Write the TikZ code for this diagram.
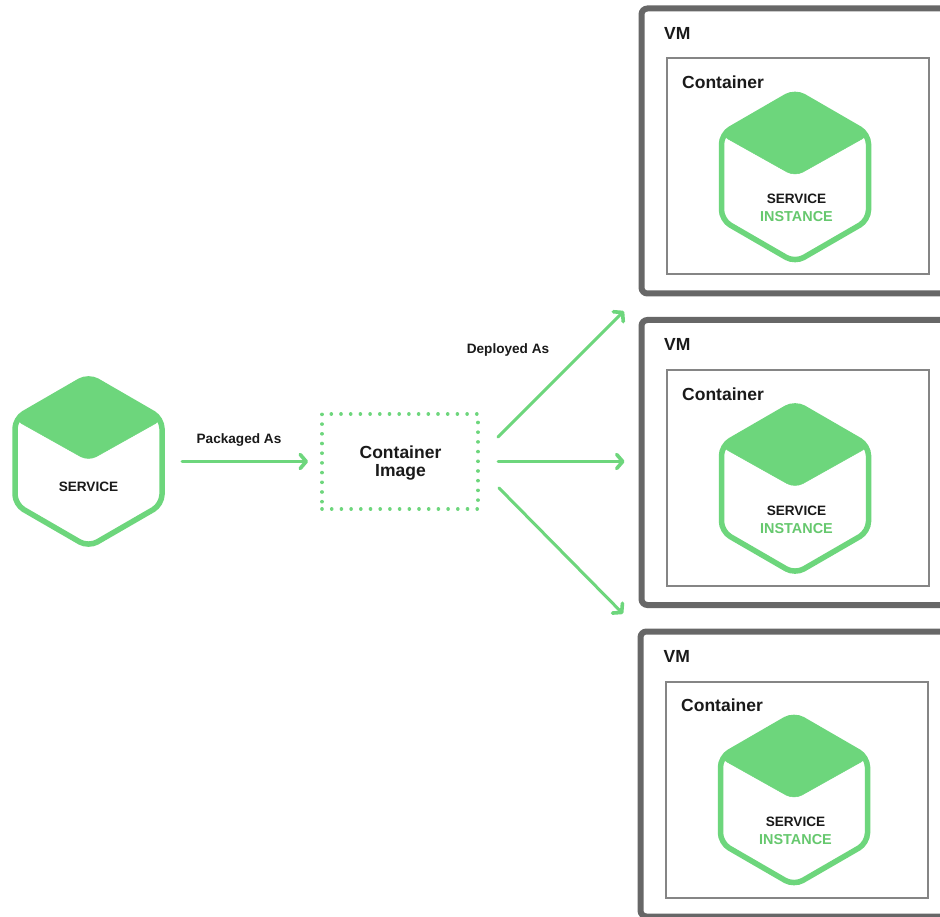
\documentclass[tikz,border=0pt]{standalone}
\usepackage{fontspec}
\setmainfont{Liberation Sans}[BoldFont={Liberation Sans Bold}]
\usetikzlibrary{arrows.meta}
\definecolor{hexgreen}{HTML}{6DD67C}
\definecolor{instgreen}{HTML}{66C86E}
\definecolor{vmgray}{HTML}{676767}
\definecolor{boxgray}{HTML}{858585}
\definecolor{inkblack}{HTML}{1A1A1A}
\tikzset{
  x=1pt,y=-1pt,
  flow/.style={draw=hexgreen,line width=3pt,line cap=round,
    -{Straight Barb[length=6pt,width=14pt,line width=3.6pt,round]}},
  vmbox/.style={draw=vmgray,line width=6pt,rounded corners=6pt,fill=white,outer sep=0pt,
    minimum width=330pt,minimum height=285pt,inner sep=0pt,anchor=north west},
  ctrbox/.style={draw=boxgray,line width=2pt,fill=white,outer sep=0pt,minimum width=262pt,
    minimum height=216pt,inner sep=0pt,anchor=north west},
  imgbox/.style={draw=hexgreen,line width=3.6pt,line cap=round,outer sep=0pt,
    dash pattern=on 0.01pt off 9.69pt,minimum width=156pt,minimum height=95pt,
    inner sep=0pt,anchor=north west},
  lbl/.style={anchor=base,inner sep=0pt,text=inkblack,font=\bfseries\fontsize{17.5}{20}\selectfont},
  lblw/.style={anchor=base west,inner sep=0pt,text=inkblack,font=\bfseries\fontsize{17.5}{20}\selectfont},
  small/.style={anchor=base,inner sep=0pt,text=inkblack,font=\bfseries\fontsize{13.6}{16}\selectfont},
  inst/.style={anchor=base,inner sep=0pt,text=instgreen,font=\bfseries\fontsize{14.4}{16}\selectfont},
  hexline/.style={draw=hexgreen,line width=5.5pt,rounded corners=10pt,fill=white},
  hextop/.style={fill=hexgreen,draw=hexgreen,line width=0.5pt,rounded corners=9pt},
  pics/hexa/.style={code={
    \path[hexline] (0,-85.5) -- (73.5,-43) -- (73.5,43) -- (0,85.5) -- (-73.5,43) -- (-73.5,-43) -- cycle;
    \path[hextop] (0,-86) -- (75,-42.5) -- (0,-0.5) -- (-75,-42.5) -- cycle;
  }}
}
\begin{document}
\begin{tikzpicture}
\clip (0,0) rectangle (940,917);
\fill[white] (0,0) rectangle (940,917);
% left hexagon
\pic at (88.5,461.5) {hexa};
\node[small] (svc) at (88.5,491) {SERVICE};
\coordinate (svcR) at (182,461.5);
% image
\node[imgbox] (image) at (322,414) {};
\node[lbl] (imgA) at (400.5,458) {Container};
\node[lbl] (imgB) at (400.5,476) {Image};
\node[small] (pk) at (239,443) {Packaged As};
\node[small] (dp) at (508,353) {Deployed As};
% VM 1
\node[vmbox] (vm1) at (641.5,8.5) {};
\node[lblw] (vm1t) at (664,39.5) {VM};
\node[ctrbox] (c1) at (666.5,58.5) {};
\node[lblw] (c1t) at (682,88.5) {Container};
\pic at (795,177) {hexa};
\node[small] (s1) at (796.5,203.5) {SERVICE};
\node[inst] (i1) at (796.5,221.5) {INSTANCE};
% VM 2
\node[vmbox] (vm2) at (641.5,320) {};
\node[lblw] (vm2t) at (664,351) {VM};
\node[ctrbox] (c2) at (666.5,370) {};
\node[lblw] (c2t) at (682,400) {Container};
\pic at (795,488.5) {hexa};
\node[small] (s2) at (796.5,515) {SERVICE};
\node[inst] (i2) at (796.5,533) {INSTANCE};
% VM 3
\node[vmbox] (vm3) at (640.5,631.5) {};
\node[lblw] (vm3t) at (663.5,662) {VM};
\node[ctrbox] (c3) at (665.5,681.5) {};
\node[lblw] (c3t) at (681,711.5) {Container};
\pic at (794,800) {hexa};
\node[small] (s3) at (795.5,826.5) {SERVICE};
\node[inst] (i3) at (795.5,844.5) {INSTANCE};
% connectors
\coordinate (fan1) at (498,437);
\coordinate (fan2) at (498,461.5);
\coordinate (fan3) at (499,488);
\draw[flow,shorten >=14pt] (svcR) -- (image.west |- svcR);
\draw[flow,shorten >=25pt] (fan1) -- (vm1.south west);
\draw[flow,shorten >=17pt] (fan2) -- (vm2.west |- fan2);
\draw[flow,shorten >=25pt] (fan3) -- (vm3.north west);
\end{tikzpicture}
\end{document}
